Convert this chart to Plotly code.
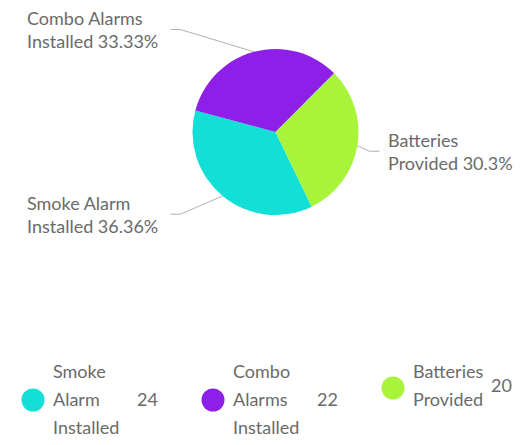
import math
import plotly.graph_objects as go

labels = ["Smoke Alarm Installed", "Combo Alarms Installed", "Batteries Provided"]
values = [24, 22, 20]
colors = ["#12DFD6", "#8E1FE8", "#A7F43B"]

PW, PH = 523, 445       # page size
OFF = 8                 # default body margin of the page
W, H = PW - OFF, PH - 2 * OFF
VIS_R = 514             # right limit of the visible page area
cx, cy, r = 275.5, 132, 83      # page coords of pie
rotation = 154.1
FONT = "Lato"
TXT = "#6a6a6a"
FS = 18

fig = go.Figure()

fig.add_trace(go.Pie(
    labels=labels, values=values, sort=False, direction="clockwise",
    rotation=rotation, textinfo="none", hoverinfo="label+value+percent",
    marker=dict(colors=colors, line=dict(width=0)),
    domain=dict(x=[(cx - r - OFF) / W, (cx + r - OFF) / W],
                y=[1 - (cy + r - OFF) / H, 1 - (cy - r - OFF) / H]),
    showlegend=False,
))

total = sum(values)
annotations = []
acc = 0.0
for lab, v in zip(labels, values):
    mid = math.radians(rotation + (acc + v / 2) * 360 / total)
    acc += v
    pct = v / total * 100
    pct_s = f"{pct:.2f}".rstrip("0").rstrip(".") + "%"
    ex, ey = cx + r * math.sin(mid), cy - r * math.cos(mid)
    ly = cy - 104 * math.cos(mid) - 2 * math.copysign(1, math.cos(mid))
    words = lab.split(" ")
    line1 = " ".join(words[:-1])
    line2 = words[-1] + " " + pct_s
    if math.sin(mid) < 0:
        kx, endx, tx, anchor = cx - 95, cx - 105, cx - 116, "right"
    else:
        kx, endx, tx, anchor = cx + 94, cx + 104, cx + 110, "left"
    fig.add_trace(go.Scatter(x=[ex, kx, endx], y=[ey, ly, ly], mode="lines",
                             line=dict(color="#b0b0b0", width=1), hoverinfo="skip",
                             showlegend=False))
    annotations.append(dict(x=tx, y=ly, xref="x", yref="y", text=line1 + "<br>" + line2,
                            showarrow=False, xanchor=anchor, yanchor="middle", align="left",
                            font=dict(family=FONT, size=FS, color=TXT)))

# custom legend
top = 371
sp = 28
for i, (lab, v, c) in enumerate(zip(labels, values, colors)):
    x0 = 33 + i * 180
    words = lab.split(" ")
    n = len(words)
    midy = top + sp * (n - 1) / 2
    fig.add_trace(go.Scatter(x=[x0], y=[midy + (3 if n == 2 else 1)], mode="markers",
                             marker=dict(size=23, color=c), hoverinfo="skip", showlegend=False))
    for j, w in enumerate(words):
        annotations.append(dict(x=x0 + 18, y=top + j * sp, xref="x", yref="y", text=w,
                                showarrow=False, xanchor="left", yanchor="middle",
                                font=dict(family=FONT, size=FS, color=TXT)))
    annotations.append(dict(x=min(x0 + 127, VIS_R), y=midy, xref="x", yref="y",
                            text=str(v), showarrow=False, xanchor="right", yanchor="middle",
                            font=dict(family=FONT, size=FS, color=TXT)))

fig.update_layout(
    width=W, height=H, margin=dict(l=0, r=0, t=0, b=0),
    paper_bgcolor="white", plot_bgcolor="rgba(0,0,0,0)",
    xaxis=dict(range=[OFF, OFF + W], visible=False, fixedrange=True),
    yaxis=dict(range=[OFF + H, OFF], visible=False, fixedrange=True),
    annotations=annotations,
)

fig.write_html("out.html")
